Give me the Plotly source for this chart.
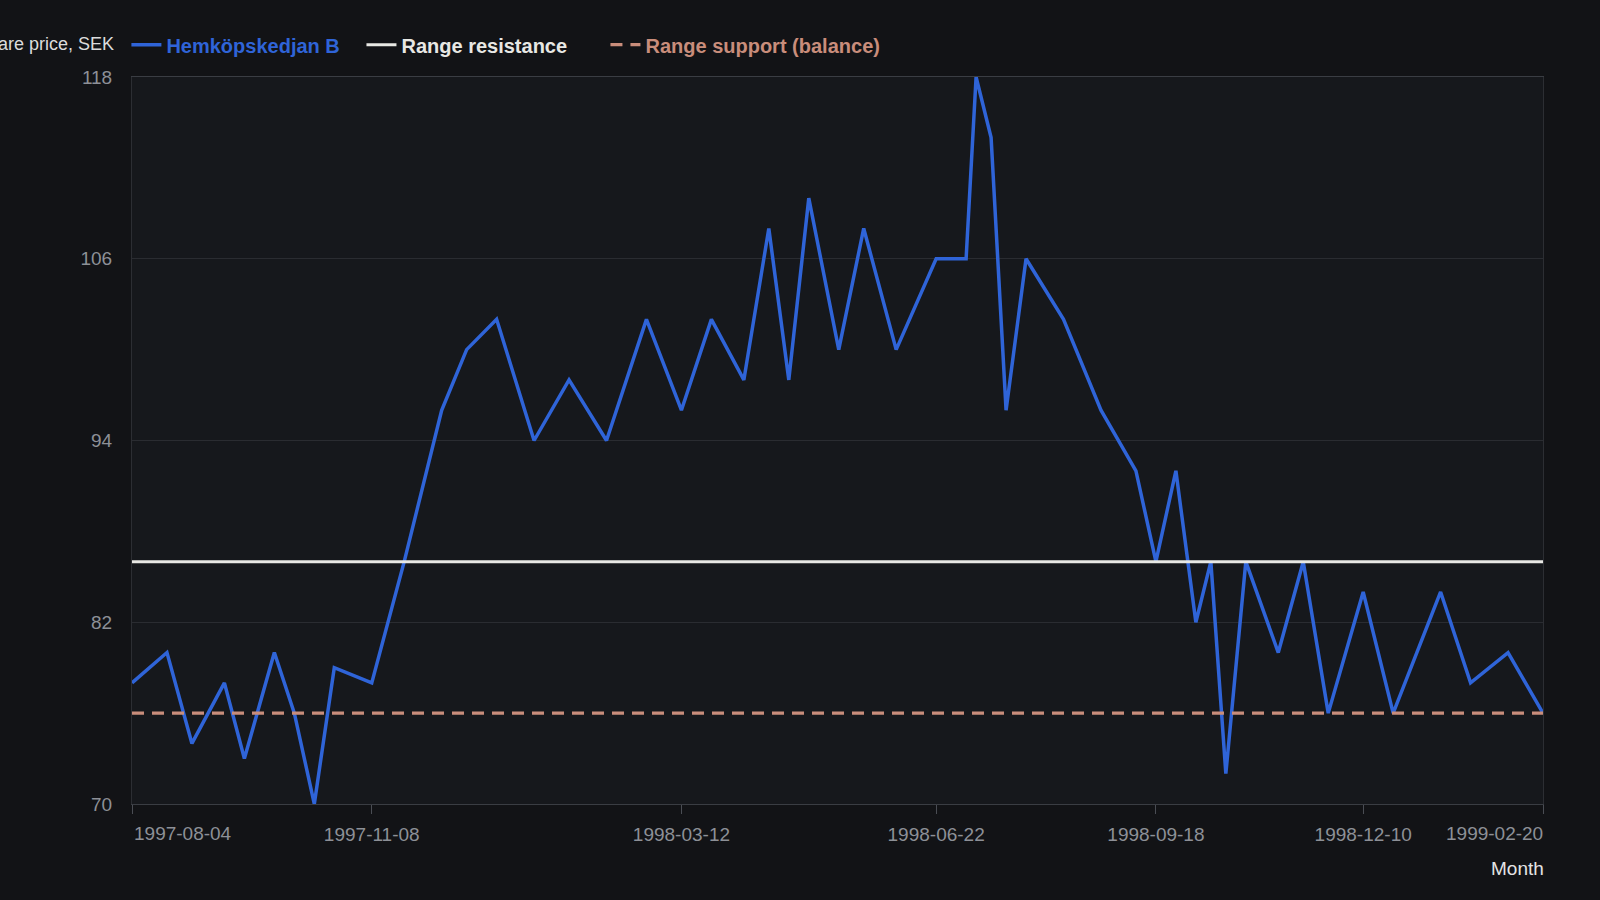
import plotly.graph_objects as go

dates = [
    "1997-08-04", "1997-08-18", "1997-08-28", "1997-09-10", "1997-09-18", "1997-09-30",
    "1997-10-08", "1997-10-16", "1997-10-24", "1997-11-08", "1997-11-21", "1997-12-06",
    "1997-12-16", "1997-12-28", "1998-01-12", "1998-01-26", "1998-02-10", "1998-02-26",
    "1998-03-12", "1998-03-24", "1998-04-06", "1998-04-16", "1998-04-24", "1998-05-02",
    "1998-05-14", "1998-05-24", "1998-06-06", "1998-06-22", "1998-07-04", "1998-07-08",
    "1998-07-14", "1998-07-20", "1998-07-28", "1998-08-12", "1998-08-27", "1998-09-10",
    "1998-09-18", "1998-09-26", "1998-10-04", "1998-10-10", "1998-10-16", "1998-10-24",
    "1998-11-06", "1998-11-16", "1998-11-26", "1998-12-10", "1998-12-22", "1999-01-10",
    "1999-01-22", "1999-02-06", "1999-02-20",
]
prices = [
    78, 80, 74, 78, 73, 80,
    76, 70, 79, 78, 86, 96,
    100, 102, 94, 98, 94, 102,
    96, 102, 98, 108, 98, 110,
    100, 108, 100, 106, 106, 118,
    114, 96, 106, 102, 96, 92,
    86, 92, 82, 86, 72, 86,
    80, 86, 76, 84, 76, 84,
    78, 80, 76,
]
resistance_level = 86
support_level = 76

x_tick_dates = ["1997-08-04", "1997-11-08", "1998-03-12", "1998-06-22",
                "1998-09-18", "1998-12-10", "1999-02-20"]
y_ticks = [70, 82, 94, 106, 118]

series_name = "Hemköpskedjan B"
resistance_name = "Range resistance"
support_name = "Range support (balance)"
y_title = "Share price, SEK"
x_title = "Month"

BLUE = "#2f64d8"
WHITE = "#e8e8e4"
SALMON = "#c98d7b"
PAGE_BG = "#121316"
PLOT_BG = "#16181c"
GRID = "#2a2c31"
TICK_COL = "#8d9097"
FONT = "Liberation Sans, Arial, sans-serif"
NB = "\u00a0"

fig = go.Figure()
fig.add_trace(go.Scatter(
    x=dates, y=prices, mode="lines",
    line=dict(color=BLUE, width=3.5),
    name=f"<b><span style='color:{BLUE}'>{series_name}</span></b>" + NB * 3,
))
fig.add_trace(go.Scatter(
    x=[dates[0], dates[-1]], y=[resistance_level, resistance_level], mode="lines",
    line=dict(color=WHITE, width=3),
    name=f"<b><span style='color:{WHITE}'>{resistance_name}</span></b>" + NB * 6,
))
fig.add_trace(go.Scatter(
    x=[dates[0], dates[-1]], y=[support_level, support_level], mode="lines",
    line=dict(color=SALMON, width=3.2, dash="12px,8px"),
    name=f"<b><span style='color:{SALMON}'>{support_name}</span></b>",
))

tick_text = [d if 0 < i < len(x_tick_dates) - 1 else "" for i, d in enumerate(x_tick_dates)]

W, H = 1600, 900
ML, MR, MT, MB = 132, 57, 77, 96

fig.update_layout(
    width=W, height=H,
    paper_bgcolor=PAGE_BG, plot_bgcolor=PLOT_BG,
    font=dict(family=FONT, size=19, color=TICK_COL),
    margin=dict(l=ML, r=MR, t=MT, b=MB, autoexpand=False),
    showlegend=True,
    legend=dict(
        orientation="h", xref="container", yref="container",
        x=0.079, y=0.972, xanchor="left", yanchor="top",
        bgcolor="rgba(0,0,0,0)", font=dict(size=20, color=WHITE, family=FONT),
        itemwidth=30, tracegroupgap=0,
    ),
    xaxis=dict(
        type="date", range=[dates[0], dates[-1]],
        tickvals=x_tick_dates, ticktext=tick_text,
        ticks="outside", ticklen=9, tickcolor="#4a4d54", tickwidth=1,
        ticklabelstandoff=4,
        showgrid=False, showline=True, linecolor="#3a3d43", linewidth=1,
        mirror=True, zeroline=False,
        tickfont=dict(size=19, color=TICK_COL),
    ),
    yaxis=dict(
        range=[70, 118], tickvals=y_ticks,
        showgrid=True, gridcolor=GRID, gridwidth=1,
        showline=True, linecolor="#2c2e33", linewidth=1, mirror=True,
        zeroline=False, ticks="", ticklabelstandoff=15,
        tickfont=dict(size=19, color=TICK_COL),
    ),
    annotations=[
        dict(x=x_tick_dates[0], y=0, xref="x", yref="paper", yshift=-29,
             text=x_tick_dates[0], showarrow=False, xanchor="left", yanchor="middle",
             font=dict(size=19, color=TICK_COL)),
        dict(x=x_tick_dates[-1], y=0, xref="x", yref="paper", yshift=-29, xshift=2,
             text=x_tick_dates[-1], showarrow=False, xanchor="right", yanchor="middle",
             font=dict(size=19, color=TICK_COL)),
        dict(x=x_tick_dates[-1], y=0, xref="x", yref="paper", yshift=-64, xshift=3,
             text=x_title, showarrow=False, xanchor="right", yanchor="middle",
             font=dict(size=19, color="#e4e4e4")),
        dict(xref="paper", yref="paper",
             x=(116 - ML) / (W - ML - MR), y=1 + (MT - 44) / (H - MT - MB),
             text=y_title, showarrow=False, xanchor="right", yanchor="middle",
             font=dict(size=18, color="#dcdcdc")),
    ],
)

fig.write_html(
    "out.html",
    config={"displayModeBar": False},
    post_script=f"document.body.style.margin='0';document.body.style.background='{PAGE_BG}';",
)
